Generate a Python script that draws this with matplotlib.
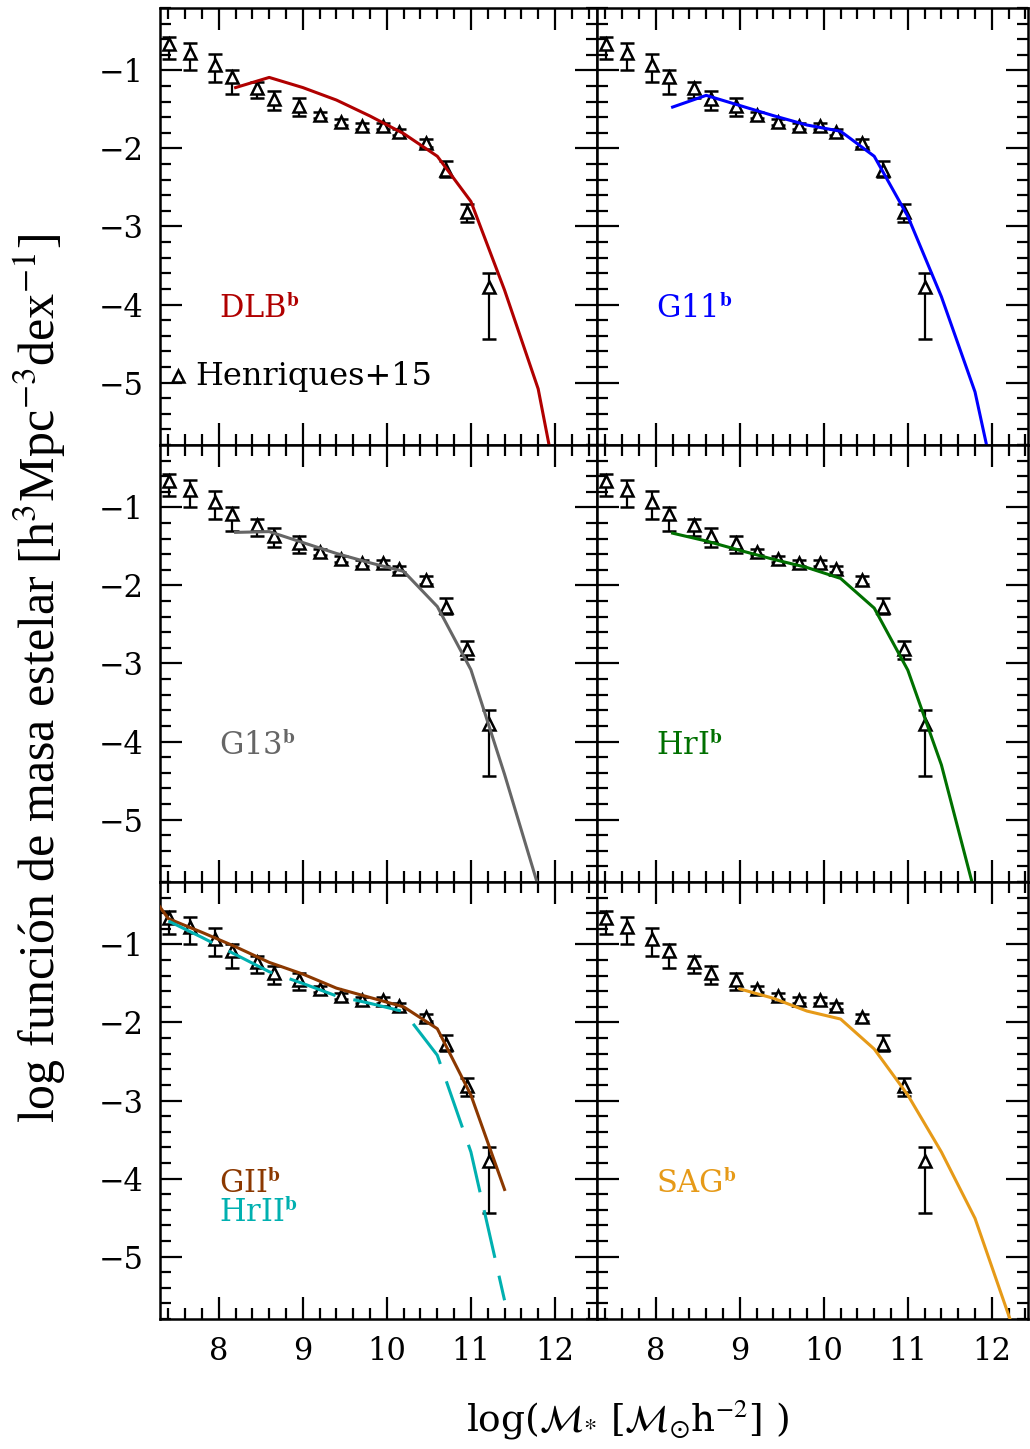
import matplotlib.pyplot as plt
from matplotlib.ticker import MultipleLocator

plt.rcParams['font.family'] = ['DejaVu Serif']
plt.rcParams['mathtext.fontset'] = 'stix'

# Henriques+15 observed stellar mass function
obs_x = [7.41, 7.66, 7.95, 8.16, 8.46, 8.66, 8.96, 9.2, 9.45, 9.7, 9.95, 10.15, 10.46, 10.7, 10.95, 11.21]
obs_y = [-0.66, -0.78, -0.93, -1.09, -1.23, -1.37, -1.46, -1.57, -1.66, -1.71, -1.71, -1.79, -1.935, -2.28, -2.81, -3.77]
obs_err_lo = [0.2, 0.22, 0.22, 0.21, 0.13, 0.14, 0.13, 0.04, 0.04, 0.04, 0.04, 0.04, 0.05, 0.09, 0.13, 0.67]
obs_err_hi = [0.09, 0.13, 0.14, 0.1, 0.085, 0.1, 0.1, 0.04, 0.04, 0.04, 0.04, 0.04, 0.05, 0.12, 0.1, 0.18]

# semi-analytic models
mx = [8.2, 8.6, 9.0, 9.4, 9.8, 10.2, 10.6, 11.0, 11.4, 11.8, 12.2]
dlb_y = [-1.22, -1.09, -1.22, -1.38, -1.585, -1.81, -2.1, -2.68, -3.815, -5.08, -7.3]
g11_y = [-1.47, -1.32, -1.45, -1.58, -1.70, -1.78, -2.10, -2.87, -3.90, -5.12, -7.1]
g13_x = [8.2, 8.6, 9.0, 9.4, 9.8, 10.2, 10.6, 11.0, 11.4, 11.8]
g13_y = [-1.32, -1.31, -1.45, -1.59, -1.71, -1.82, -2.27, -3.08, -4.42, -5.85]
hri_x = [8.2, 8.6, 9.0, 9.4, 9.8, 10.2, 10.6, 11.0, 11.4, 11.8]
hri_y = [-1.33, -1.43, -1.55, -1.665, -1.77, -1.91, -2.29, -3.085, -4.30, -5.95]
gii_x = [7.0, 7.4, 7.8, 8.2, 8.6, 9.0, 9.4, 9.8, 10.2, 10.6, 11.0, 11.4]
gii_y = [-0.07, -0.67, -0.845, -1.03, -1.23, -1.38, -1.56, -1.68, -1.80, -2.08, -2.93, -4.14]
hrii_x = [7.4, 7.8, 8.2, 8.6, 9.0, 9.4, 9.8, 10.2, 10.6, 11.0, 11.4]
hrii_y = [-0.70, -0.91, -1.13, -1.35, -1.50, -1.66, -1.755, -1.86, -2.42, -3.66, -5.56]
sag_x = [9.0, 9.4, 9.8, 10.2, 10.6, 11.0, 11.4, 11.8, 12.2, 12.6]
sag_y = [-1.57, -1.69, -1.854, -1.956, -2.34, -2.93, -3.66, -4.51, -5.75, -7.0]

panels = [
    [('DLB', '#b00000', mx, dlb_y, False)],
    [('G11', '#0000ff', mx, g11_y, False)],
    [('G13', '#666666', g13_x, g13_y, False)],
    [('HrI', '#007000', hri_x, hri_y, False)],
    [('GII', '#8b3800', gii_x, gii_y, False), ('HrII', '#00b0b0', hrii_x, hrii_y, True)],
    [('SAG', '#e69a18', sag_x, sag_y, False)],
]

fig = plt.figure(figsize=(10.3, 14.49), dpi=100)
bottoms = [0.6929, 0.3913, 0.0897]

for i, models in enumerate(panels):
    row, col = divmod(i, 2)
    if col == 0:
        ax = fig.add_axes([0.1553, bottoms[row], 0.4243, 0.3016])
        ax.set_xlim(7.3, 12.5)
    else:
        ax = fig.add_axes([0.5796, bottoms[row], 0.4184, 0.3016])
        ax.set_xlim(7.3, 12.43)
    ax.set_ylim(-5.8, -0.2)

    ax.errorbar(obs_x, obs_y, yerr=[obs_err_lo, obs_err_hi], fmt='^', color='black',
                mfc='white', mec='black', ms=9, mew=1.8, elinewidth=1.6,
                capsize=4.7, capthick=1.6, zorder=2)

    for k, (name, c, xs, ys, dashed) in enumerate(models):
        if dashed:
            ax.plot(xs, ys, color=c, lw=2.2, dashes=(16, 6), zorder=3)
        else:
            ax.plot(xs, ys, color=c, lw=2.2, zorder=3)
        ax.text(8.0, -4.07 - 0.38 * k, name + r'$^{\mathbf{b}}$', color=c,
                fontsize=22, ha='left', va='center')

    if i == 0:
        ax.plot([7.51], [-4.92], marker='^', ms=9, mfc='white', mec='black', mew=1.8)
        ax.text(7.72, -4.92, 'Henriques+15', fontsize=23, ha='left', va='center')

    ax.xaxis.set_major_locator(MultipleLocator(1))
    ax.xaxis.set_minor_locator(MultipleLocator(0.2))
    ax.yaxis.set_major_locator(MultipleLocator(1))
    ax.yaxis.set_minor_locator(MultipleLocator(0.2))
    ax.tick_params(which='both', direction='in', top=True, right=True, width=1.6,
                   labelsize=22)
    ax.tick_params(which='major', length=16, pad=12)
    ax.tick_params(which='minor', length=8)
    for s in ax.spines.values():
        s.set_linewidth(1.8)
    if col == 1:
        ax.tick_params(labelleft=False)
    if row < 2:
        ax.tick_params(labelbottom=False)

fig.text(40 / 1030, 1 - 678 / 1449,
         'log función de masa estelar [h$^{3}$Mpc$^{-3}$dex$^{-1}$]',
         rotation=90, ha='center', va='center', fontsize=36, family='Liberation Serif')
fig.text(627 / 1030, 1 - 1420 / 1449,
         r'log($\mathcal{M}_{*}$ [$\mathcal{M}_{\odot}$h$^{-2}$] )',
         ha='center', va='center', fontsize=27)

fig.savefig('out.png', dpi=100)
